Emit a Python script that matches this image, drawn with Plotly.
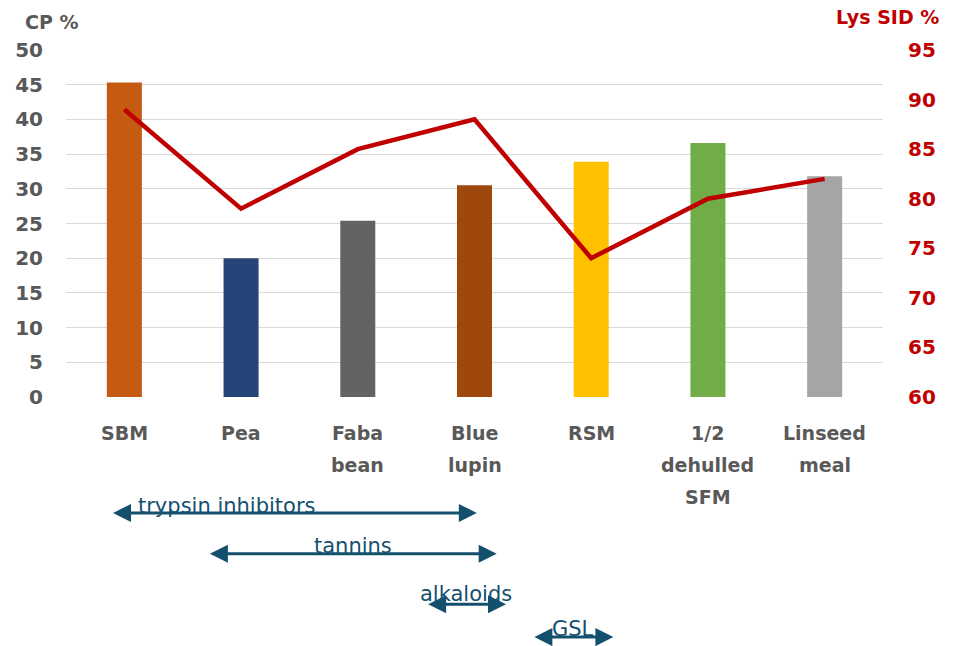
import plotly.graph_objects as go

# Feedstuffs and their values
categories = ["SBM", "Pea", "Faba<br>bean", "Blue<br>lupin", "RSM", "1/2<br>dehulled<br>SFM", "Linseed<br>meal"]
cp_percent = [45.3, 20.0, 25.4, 30.5, 33.9, 36.6, 31.8]
lys_sid = [89, 79, 85, 88, 74, 80, 82]
bar_colors = ["#C55A11", "#264478", "#636363", "#9E480E", "#FFC000", "#70AD47", "#A5A5A5"]

# Anti-nutritional factors and the span of feedstuffs they concern (category index units)
anf_names = ["trypsin inhibitors", "tannins", "alkaloids", "GSL"]
anf_start = [-0.11, 0.72, 2.59, 3.50]
anf_end = [3.02, 3.19, 3.27, 4.19]

GREY = "#595959"
RED = "#C00000"
BLUE = "#14506E"
FONT = "DejaVu Sans"

H_PLOT = 646 - 50 - 249  # plot-area height in px, for paper offsets

fig = go.Figure()
fig.add_trace(go.Bar(
    x=categories, y=cp_percent, marker_color=bar_colors, width=0.3,
    marker_line_width=0, yaxis="y", showlegend=False,
))
fig.add_trace(go.Scatter(
    x=categories, y=lys_sid, mode="lines", line=dict(color=RED, width=4.5),
    yaxis="y2", showlegend=False,
))

fig.update_layout(
    width=957, height=646,
    margin=dict(l=66, r=74, t=50, b=249),
    paper_bgcolor="white", plot_bgcolor="white",
    font=dict(family=FONT),
    xaxis=dict(
        showgrid=False, zeroline=False, showline=False, ticks="",
        showticklabels=False,
    ),
    yaxis=dict(
        range=[0, 50], dtick=5, showgrid=True, gridcolor="#D9D9D9", gridwidth=1,
        zeroline=False, showline=False, ticks="",
        tickfont=dict(family=FONT, size=20, color=GREY, weight="bold"),
        ticklabelstandoff=22,
    ),
    yaxis2=dict(
        range=[60, 95], dtick=5, overlaying="y", side="right", showgrid=False,
        zeroline=False, showline=False, ticks="",
        tickfont=dict(family=FONT, size=20, color=RED, weight="bold"),
        ticklabelstandoff=24,
    ),
)

# Category labels, one line at a time for a wider line spacing
for cat in categories:
    for i, line in enumerate(cat.split("<br>")):
        fig.add_annotation(
            x=cat, y=-(36 + 32 * i) / H_PLOT, xref="x", yref="paper",
            text=line, showarrow=False, xanchor="center", yanchor="middle",
            font=dict(family=FONT, size=19, color=GREY, weight="bold"),
        )

# Axis titles
fig.add_annotation(text="CP %", xref="paper", yref="paper", x=-0.017, y=1.081,
                   showarrow=False, xanchor="center", yanchor="middle",
                   font=dict(family=FONT, size=19, color=GREY, weight="bold"))
fig.add_annotation(text="Lys SID %", xref="paper", yref="paper", x=1.006, y=1.095,
                   showarrow=False, xanchor="center", yanchor="middle",
                   font=dict(family=FONT, size=19, color=RED, weight="bold"))

# Double-headed arrows with labels below the chart
arrow_y = [-0.334, -0.452, -0.597, -0.692]
label_y = [-0.315, -0.43, -0.568, -0.67]
for name, x0, x1, ya, yl in zip(anf_names, anf_start, anf_end, arrow_y, label_y):
    fig.add_annotation(
        x=x1, y=ya, xref="x", yref="paper",
        ax=x0, ay=0, axref="x", ayref="pixel",
        showarrow=True, arrowside="end+start", arrowhead=2,
        arrowsize=1.2, arrowwidth=3, arrowcolor=BLUE,
        standoff=0, startstandoff=0, text="",
    )
    fig.add_annotation(
        x=(x0 + x1) / 2 if name != "trypsin inhibitors" else 0.88,
        y=yl, xref="x", yref="paper", text=name, showarrow=False,
        xanchor="center", yanchor="middle",
        font=dict(family=FONT, size=21, color=BLUE),
    )

fig.write_html("out.html")
